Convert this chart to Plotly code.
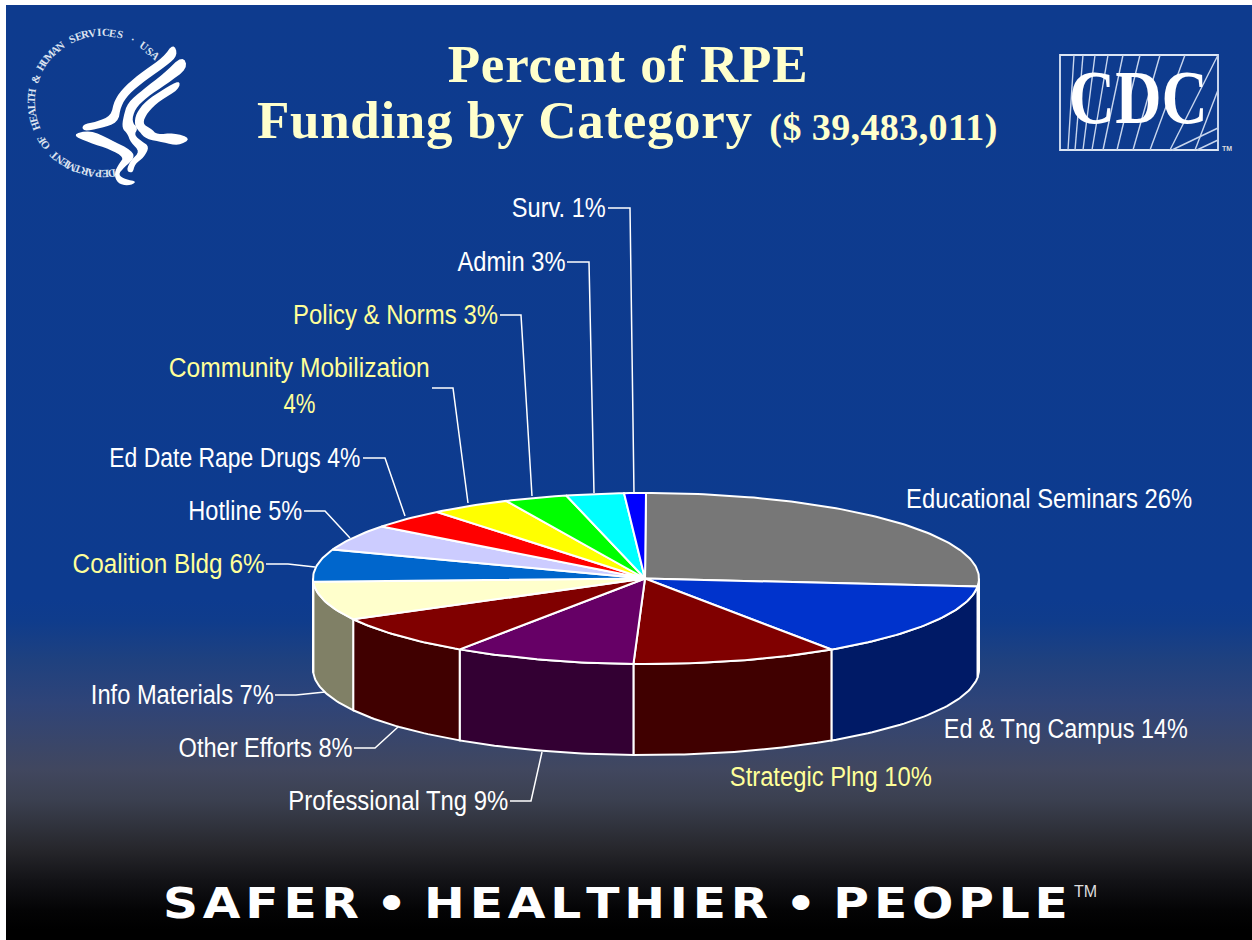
import json
import math
import plotly.graph_objects as go

# ---------- data ----------
categories = ["Educational Seminars", "Ed & Tng Campus", "Strategic Plng", "Professional Tng",
              "Other Efforts", "Info Materials", "Coalition Bldg", "Hotline", "Ed Date Rape Drugs",
              "Community Mobilization", "Policy & Norms", "Admin", "Surv."]
values = [26.5, 14.1, 10.0, 8.85, 7.65, 7.3, 6.1, 4.9, 3.8, 3.9, 3.05, 2.8, 1.05]
shown_percent = [26, 14, 10, 9, 8, 7, 6, 5, 4, 4, 3, 3, 1]

top_colors = ["#777777", "#0033CC", "#800000", "#660066", "#800000", "#FFFFCC", "#0066CC",
              "#CCCCFF", "#FF0000", "#FFFF00", "#00FF00", "#00FFFF", "#0000FF"]
side_colors = ["#3C3C3C", "#001A66", "#400000", "#330033", "#400000", "#808066", "#003366",
               "#666680", "#800000", "#808000", "#008000", "#008080", "#000080"]
label_colors = ["#FFFFFF", "#FFFFFF", "#FFFF99", "#FFFFFF", "#FFFFFF", "#FFFFFF", "#FFFF99",
                "#FFFFFF", "#FFFFFF", "#FFFF99", "#FFFF99", "#FFFFFF", "#FFFFFF"]

# ---------- layout geometry ----------
W, H = 1252, 940
CX, CY, RX, RY, DEPTH = 646, 578.5, 333, 85.5, 91
FONT_SANS = "Liberation Sans, Arial, sans-serif"
FONT_SERIF = "Liberation Serif, Times New Roman, serif"
CREAM = "#FFFFCC"

# (centre x, centre y, drawn width) of each label
label_pos = [(1049, 499, 286), (1066, 729, 244), (831, 777, 202), (398, 801, 220),
             (265, 748, 174), (182.5, 695, 183), (168, 564, 192), (245, 511, 114),
             (234.5, 458, 251), (299.5, 368, 261), (395.5, 315, 205), (511, 262, 108),
             (559, 208, 94)]
leaders = {
    "Surv.": [(608, 208), (630, 208), (634, 493)],
    "Admin": [(567, 262), (589, 262), (594, 493)],
    "Policy & Norms": [(500, 315), (521, 315), (532, 496)],
    "Community Mobilization": [(432, 388), (453, 388), (468, 503)],
    "Ed Date Rape Drugs": [(363, 458), (385, 458), (405, 516)],
    "Hotline": [(304, 511), (325, 511), (350, 538)],
    "Coalition Bldg": [(266, 564), (288, 564), (315, 567)],
    "Info Materials": [(275, 695), (296, 695), (325, 692)],
    "Other Efforts": [(354, 748), (375, 748), (398, 727)],
    "Professional Tng": [(510, 801), (531, 801), (542, 752)],
}

fit = {}  # text -> [width in px, how to reach it]


def ell(theta, dy=0.0):
    r = math.radians(theta)
    return CX + RX * math.sin(r), CY - RY * math.cos(r) + dy


def arc(a, b, dy=0.0):
    n = max(2, int(abs(b - a)) + 2)
    return [ell(a + (b - a) * i / (n - 1), dy) for i in range(n)]


fig = go.Figure()

# slide background with its vertical gradient
fig.add_trace(go.Scatter(
    x=[6, W, W, 6, 6], y=[5, 5, H, H, 5], mode="lines", line=dict(width=0), fill="toself",
    fillgradient=dict(type="vertical", colorscale=[
        [0.00, "#000000"], [0.011, "#000000"], [0.032, "#040405"], [0.064, "#131317"], [0.096, "#26262B"],
        [0.15, "#3B4050"], [0.182, "#41475F"], [0.253, "#2F4478"], [0.299, "#1F417F"], [0.342, "#0F3C8C"],
        [0.364, "#0D3B8F"], [1.00, "#0E3B8E"]]),
    hoverinfo="skip", showlegend=False))

total = sum(values)
angles = [0.0]
for v in values:
    angles.append(angles[-1] + v / total * 360)

# side wall of the pie
for i, cat in enumerate(categories):
    a, b = max(angles[i], 90), min(angles[i + 1], 270)
    if b <= a:
        continue
    pts = arc(a, b) + arc(b, a, DEPTH)
    pts.append(pts[0])
    fig.add_trace(go.Scatter(x=[p[0] for p in pts], y=[p[1] for p in pts], mode="lines", fill="toself",
                             fillcolor=side_colors[i], line=dict(color="white", width=2),
                             name=cat, hoverinfo="skip", showlegend=False))

# top face of the pie
for i, cat in enumerate(categories):
    pts = [(CX - 1, CY)] + arc(angles[i], angles[i + 1]) + [(CX - 1, CY)]
    fig.add_trace(go.Scatter(x=[p[0] for p in pts], y=[p[1] for p in pts], mode="lines", fill="toself",
                             fillcolor=top_colors[i], line=dict(color="white", width=2),
                             name=cat, text=f"{values[i]}%", hoverinfo="name+text", showlegend=False))

# leader lines
for pts in leaders.values():
    fig.add_trace(go.Scatter(x=[p[0] for p in pts], y=[p[1] for p in pts], mode="lines",
                             line=dict(color="white", width=1.5), hoverinfo="skip", showlegend=False))

ann = []


def text(x, y, s, size, color="white", family=FONT_SERIF, angle=0, bold=False, width=None, how="spacingAndGlyphs"):
    ann.append(dict(x=x, y=y, text=s, showarrow=False, xanchor="center", yanchor="middle", textangle=angle,
                    font=dict(family=family, size=size, color=color, weight="bold" if bold else "normal"),
                    xref="x", yref="y"))
    if width:
        fit[s] = [width, how]


for cat, pct, col, (x, y, wd) in zip(categories, shown_percent, label_colors, label_pos):
    if cat == "Community Mobilization":
        text(x, y, cat, 27, col, FONT_SANS, width=wd)
        text(x, y + 36, f"{pct}%", 27, col, FONT_SANS, width=32)
    else:
        text(x, y, f"{cat} {pct}%", 27, col, FONT_SANS, width=wd)

# title
text(627, 64, "Percent of RPE", 53, CREAM, bold=True, width=360, how="spacing")
text(504.5, 120, "Funding by Category", 53, CREAM, bold=True, width=495, how="spacing")
text(883, 127, "($ 39,483,011)", 38, CREAM, bold=True, width=228, how="spacing")

# footer
HS = "\u200a"
text(615.5, 903, HS.join("SAFER") + " \u2022 " + HS.join("HEALTHIER") + " \u2022 " + HS.join("PEOPLE"),
     42, "white", family="DejaVu Sans", bold=True, width=905)
text(1085, 891, "TM", 16, "#DDDDDD", family=FONT_SANS)

# HHS seal: ring text
ring = "DEPARTMENT OF HEALTH & HUMAN SERVICES \u00b7 USA"
RC = (102, 103)
start, end = 172, 408
for i, ch in enumerate(ring):
    th = start + (end - start) * i / (len(ring) - 1)
    r = math.radians(th)
    text(RC[0] + 71 * math.sin(r), RC[1] - 71 * math.cos(r), ch, 11, "#DCE3F0", angle=th, bold=True)

shapes = []


def smooth(points, rounds=2):
    for _ in range(rounds):
        out = []
        for j, p in enumerate(points):
            q = points[(j + 1) % len(points)]
            out.append((0.75 * p[0] + 0.25 * q[0], 0.75 * p[1] + 0.25 * q[1]))
            out.append((0.25 * p[0] + 0.75 * q[0], 0.25 * p[1] + 0.75 * q[1]))
        points = out
    return points


def path(points, color="white"):
    d = "M" + " L".join(f"{x/3:.1f},{y/3:.1f}" for x, y in smooth(points)) + " Z"
    shapes.append(dict(type="path", path=d, xref="x", yref="y", fillcolor=color, line=dict(width=0), layer="above"))


# HHS seal: eagle/people profile (points traced in a 3x grid)
path([(520, 130), (534, 165), (500, 197), (440, 238), (385, 283), (362, 320), (354, 368), (300, 385), (250, 394),
      (246, 374), (290, 365), (333, 348), (343, 300), (375, 258), (430, 213), (490, 172)])
path([(548, 166), (564, 205), (500, 252), (440, 292), (405, 327), (395, 365), (414, 385), (402, 405), (427, 425),
      (448, 440), (432, 472), (405, 492), (398, 520), (378, 512), (393, 480), (420, 455), (392, 427), (382, 400),
      (366, 385), (370, 350), (383, 308), (430, 268), (490, 222)])
path([(540, 240), (537, 268), (480, 302), (442, 337), (427, 372), (452, 385), (472, 405), (520, 398), (574, 415),
      (535, 438), (490, 427), (438, 417), (418, 395), (403, 375), (408, 340), (438, 303), (490, 268)])
path([(214, 404), (270, 390), (330, 418), (398, 453), (402, 477), (372, 502), (354, 525), (377, 538), (412, 545),
      (385, 558), (352, 550), (342, 520), (358, 490), (372, 472), (330, 448), (268, 428)])

# CDC logo
LX0, LX1, LY0, LY1 = 1060, 1218, 55, 150
shapes.append(dict(type="rect", x0=LX0, x1=LX1, y0=LY0, y1=LY1, xref="x", yref="y",
                   line=dict(color="#DCE6F5", width=1.8), layer="above"))
rays = [(1068, 1074), (1075, 1083), (1083, 1095), (1092, 1108), (1103, 1123), (1117, 1140), (1133, 1160),
        (1150, 1185), (1170, 1218)]
for b, t in rays:
    shapes.append(dict(type="line", x0=b, y0=LY1, x1=t, y1=LY0, xref="x", yref="y",
                       line=dict(color="#C8D6EE", width=1.4), layer="above"))
for b, ry in [(1195, 90), (1172, 128), (1197, 140)]:
    shapes.append(dict(type="line", x0=b, y0=LY1, x1=LX1, y1=ry, xref="x", yref="y",
                       line=dict(color="#C8D6EE", width=1.4), layer="above"))
text(1138.5, 97, "CDC", 76, "white", bold=True, width=139)
text(1227, 148, "TM", 7, "#DDDDDD", family=FONT_SANS, bold=True)

fig.update_layout(
    width=W, height=H, margin=dict(l=0, r=0, t=0, b=0), autosize=False,
    paper_bgcolor="white", plot_bgcolor="rgba(0,0,0,0)", showlegend=False,
    xaxis=dict(range=[0, W], visible=False, fixedrange=True),
    yaxis=dict(range=[H, 0], visible=False, fixedrange=True),
    annotations=ann, shapes=shapes,
)

post = """
document.body.style.margin='0';
var FIT = %s;
document.querySelectorAll('.annotation-text').forEach(function(t){
  var f = FIT[t.textContent];
  if (f) { t.setAttribute('textLength', f[0]); t.setAttribute('lengthAdjust', f[1]); }
});
""" % json.dumps(fit)
fig.write_html("out.html", post_script=post, config={"displayModeBar": False})
